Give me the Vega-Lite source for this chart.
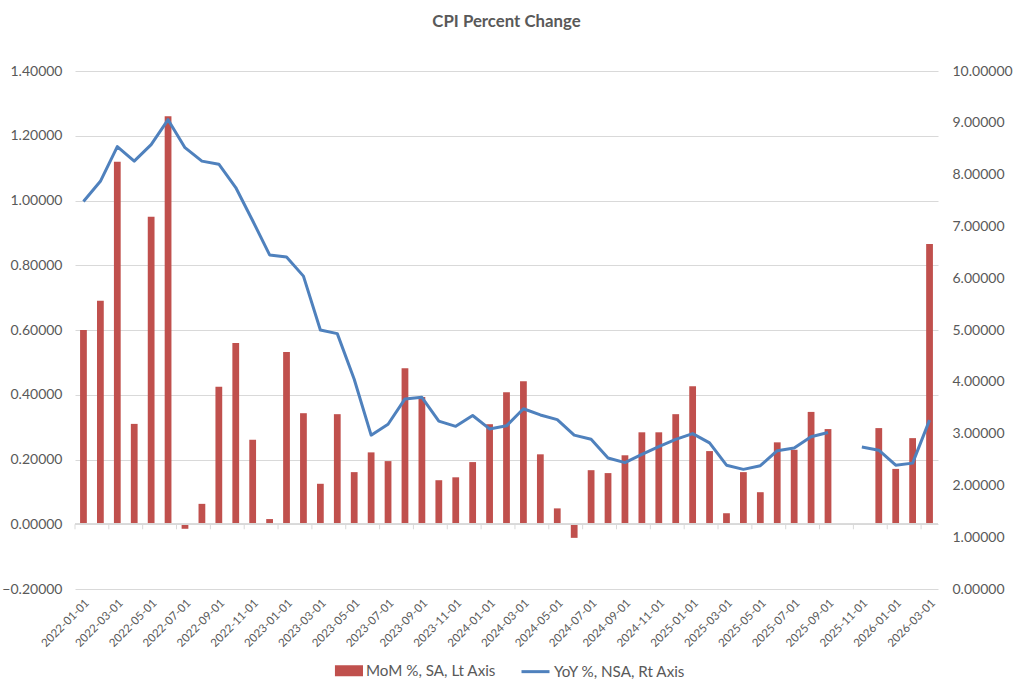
{
  "$schema": "https://vega.github.io/schema/vega-lite/v6.json",
  "width": 863,
  "height": 518,
  "autosize": {"type": "none"},
  "padding": {"left": 75, "top": 71, "right": 79, "bottom": 96},
  "title": {"text": "CPI Percent Change", "fontSize": 16.8, "fontWeight": "bold", "color": "#595959", "font": "Lato", "anchor": "middle", "offset": 33},
  "data": {"values": [
    {"month": "2022-01-01", "mom": 0.60, "yoy": 7.48},
    {"month": "2022-02-01", "mom": 0.69, "yoy": 7.87},
    {"month": "2022-03-01", "mom": 1.12, "yoy": 8.54},
    {"month": "2022-04-01", "mom": 0.31, "yoy": 8.26},
    {"month": "2022-05-01", "mom": 0.95, "yoy": 8.58},
    {"month": "2022-06-01", "mom": 1.26, "yoy": 9.06},
    {"month": "2022-07-01", "mom": -0.014, "yoy": 8.52},
    {"month": "2022-08-01", "mom": 0.063, "yoy": 8.26},
    {"month": "2022-09-01", "mom": 0.425, "yoy": 8.20},
    {"month": "2022-10-01", "mom": 0.56, "yoy": 7.75},
    {"month": "2022-11-01", "mom": 0.261, "yoy": 7.11},
    {"month": "2022-12-01", "mom": 0.016, "yoy": 6.45},
    {"month": "2023-01-01", "mom": 0.532, "yoy": 6.41},
    {"month": "2023-02-01", "mom": 0.343, "yoy": 6.04},
    {"month": "2023-03-01", "mom": 0.125, "yoy": 5.00},
    {"month": "2023-04-01", "mom": 0.340, "yoy": 4.93},
    {"month": "2023-05-01", "mom": 0.161, "yoy": 4.05},
    {"month": "2023-06-01", "mom": 0.222, "yoy": 2.97},
    {"month": "2023-07-01", "mom": 0.195, "yoy": 3.18},
    {"month": "2023-08-01", "mom": 0.482, "yoy": 3.67},
    {"month": "2023-09-01", "mom": 0.393, "yoy": 3.70},
    {"month": "2023-10-01", "mom": 0.136, "yoy": 3.24},
    {"month": "2023-11-01", "mom": 0.145, "yoy": 3.14},
    {"month": "2023-12-01", "mom": 0.192, "yoy": 3.35},
    {"month": "2024-01-01", "mom": 0.309, "yoy": 3.09},
    {"month": "2024-02-01", "mom": 0.408, "yoy": 3.15},
    {"month": "2024-03-01", "mom": 0.442, "yoy": 3.48},
    {"month": "2024-04-01", "mom": 0.216, "yoy": 3.36},
    {"month": "2024-05-01", "mom": 0.049, "yoy": 3.27},
    {"month": "2024-06-01", "mom": -0.042, "yoy": 2.97},
    {"month": "2024-07-01", "mom": 0.167, "yoy": 2.89},
    {"month": "2024-08-01", "mom": 0.158, "yoy": 2.53},
    {"month": "2024-09-01", "mom": 0.213, "yoy": 2.44},
    {"month": "2024-10-01", "mom": 0.284, "yoy": 2.60},
    {"month": "2024-11-01", "mom": 0.284, "yoy": 2.75},
    {"month": "2024-12-01", "mom": 0.340, "yoy": 2.89},
    {"month": "2025-01-01", "mom": 0.426, "yoy": 3.00},
    {"month": "2025-02-01", "mom": 0.226, "yoy": 2.82},
    {"month": "2025-03-01", "mom": 0.034, "yoy": 2.39},
    {"month": "2025-04-01", "mom": 0.161, "yoy": 2.31},
    {"month": "2025-05-01", "mom": 0.099, "yoy": 2.38},
    {"month": "2025-06-01", "mom": 0.253, "yoy": 2.67},
    {"month": "2025-07-01", "mom": 0.230, "yoy": 2.72},
    {"month": "2025-08-01", "mom": 0.347, "yoy": 2.94},
    {"month": "2025-09-01", "mom": 0.294, "yoy": 3.02},
    {"month": "2025-10-01", "mom": null, "yoy": null},
    {"month": "2025-11-01", "mom": null, "yoy": 2.74},
    {"month": "2025-12-01", "mom": 0.297, "yoy": 2.68},
    {"month": "2026-01-01", "mom": 0.171, "yoy": 2.39},
    {"month": "2026-02-01", "mom": 0.266, "yoy": 2.43},
    {"month": "2026-03-01", "mom": 0.866, "yoy": 3.26}
  ]},
  "layer": [
    {
      "layer": [
        {
          "mark": {"type": "bar", "width": {"band": 0.4}},
          "encoding": {
            "x": {
              "field": "month", "type": "ordinal",
              "scale": {"paddingInner": 0, "paddingOuter": 0, "domain": ["2022-01-01","2022-02-01","2022-03-01","2022-04-01","2022-05-01","2022-06-01","2022-07-01","2022-08-01","2022-09-01","2022-10-01","2022-11-01","2022-12-01","2023-01-01","2023-02-01","2023-03-01","2023-04-01","2023-05-01","2023-06-01","2023-07-01","2023-08-01","2023-09-01","2023-10-01","2023-11-01","2023-12-01","2024-01-01","2024-02-01","2024-03-01","2024-04-01","2024-05-01","2024-06-01","2024-07-01","2024-08-01","2024-09-01","2024-10-01","2024-11-01","2024-12-01","2025-01-01","2025-02-01","2025-03-01","2025-04-01","2025-05-01","2025-06-01","2025-07-01","2025-08-01","2025-09-01","2025-10-01","2025-11-01","2025-12-01","2026-01-01","2026-02-01","2026-03-01"]},
              "axis": {
                "title": null,
                "values": ["2022-01-01","2022-03-01","2022-05-01","2022-07-01","2022-09-01","2022-11-01","2023-01-01","2023-03-01","2023-05-01","2023-07-01","2023-09-01","2023-11-01","2024-01-01","2024-03-01","2024-05-01","2024-07-01","2024-09-01","2024-11-01","2025-01-01","2025-03-01","2025-05-01","2025-07-01","2025-09-01","2025-11-01","2026-01-01","2026-03-01"],
                "labelAngle": -45, "labelFontSize": 11.5, "labelPadding": 8,
                "domain": false, "ticks": false, "tickSize": 0, "grid": false
              }
            },
            "y": {
              "field": "mom", "type": "quantitative",
              "scale": {"domain": [-0.2, 1.4], "nice": false, "zero": false},
              "axis": {"title": null, "values": [-0.2, 0, 0.2, 0.4, 0.6, 0.8, 1.0, 1.2, 1.4], "format": ".5f", "labelExpression": "replace(datum.label, '−', '-')", "grid": true, "gridColor": "#D9D9D9", "domain": false, "ticks": false, "labelPadding": 13, "labelFontSize": 14}
            },
            "color": {
              "datum": "MoM %, SA, Lt Axis",
              "scale": {"domain": ["MoM %, SA, Lt Axis", "YoY %, NSA, Rt Axis"], "range": ["#C0504D", "#4F81BD"]},
              "legend": {
                "title": null, "orient": "none", "direction": "horizontal", "legendX": 257, "legendY": 584,
                "labelFontSize": 15.2, "labelColor": "#595959", "labelFont": "Lato",
                "symbolSize": 784, "labelOffset": 3, "columnPadding": 19, "padding": 0,
                "encode": {
                  "symbols": {
                    "update": {
                      "shape": {"signal": "datum.value === 'YoY %, NSA, Rt Axis' ? 'stroke' : 'M-0.79,-0.29H1V0.29H-0.79Z'"},
                      "fill": {"signal": "datum.value === 'YoY %, NSA, Rt Axis' ? 'transparent' : '#C0504D'"},
                      "stroke": {"signal": "datum.value === 'YoY %, NSA, Rt Axis' ? '#4F81BD' : 'transparent'"},
                      "strokeWidth": {"value": 3},
                      "opacity": {"value": 1},
                      "fillOpacity": {"value": 1},
                      "strokeOpacity": {"value": 1}
                    }
                  }
                }
              }
            }
          }
        },
        {
          "mark": {"type": "rule", "color": "#D9D9D9", "strokeWidth": 1},
          "encoding": {"y": {"datum": 0}}
        },
        {
          "transform": [{"filter": "indexof(['01','03','05','07','09','11'], substring(datum.month, 5, 7)) >= 0"}],
          "mark": {"type": "rule", "color": "#D9D9D9", "strokeWidth": 1},
          "encoding": {
            "x": {"field": "month", "type": "ordinal", "bandPosition": 0},
            "y": {"datum": 0},
            "y2": {"datum": -0.0155}
          }
        }
      ]
    },
    {
      "mark": {"type": "line", "color": "#4F81BD", "strokeWidth": 3, "strokeJoin": "round", "invalid": "break-paths-filter-domains"},
      "encoding": {
        "x": {"field": "month", "type": "ordinal"},
        "y": {
          "field": "yoy", "type": "quantitative",
          "scale": {"domain": [0, 10], "nice": false, "zero": false},
          "axis": {"orient": "right", "title": null, "values": [0, 1, 2, 3, 4, 5, 6, 7, 8, 9, 10], "format": ".5f", "grid": false, "domain": false, "ticks": false, "labelPadding": 14, "labelFontSize": 14}
        },
        "color": {"datum": "YoY %, NSA, Rt Axis"}
      }
    }
  ],
  "resolve": {"scale": {"y": "independent"}},
  "config": {
    "view": {"stroke": null},
    "font": "Lato",
    "axis": {"labelFont": "Lato", "labelColor": "#595959", "labelFontSize": 14},
    "legend": {"labelFont": "Lato"}
  }
}
